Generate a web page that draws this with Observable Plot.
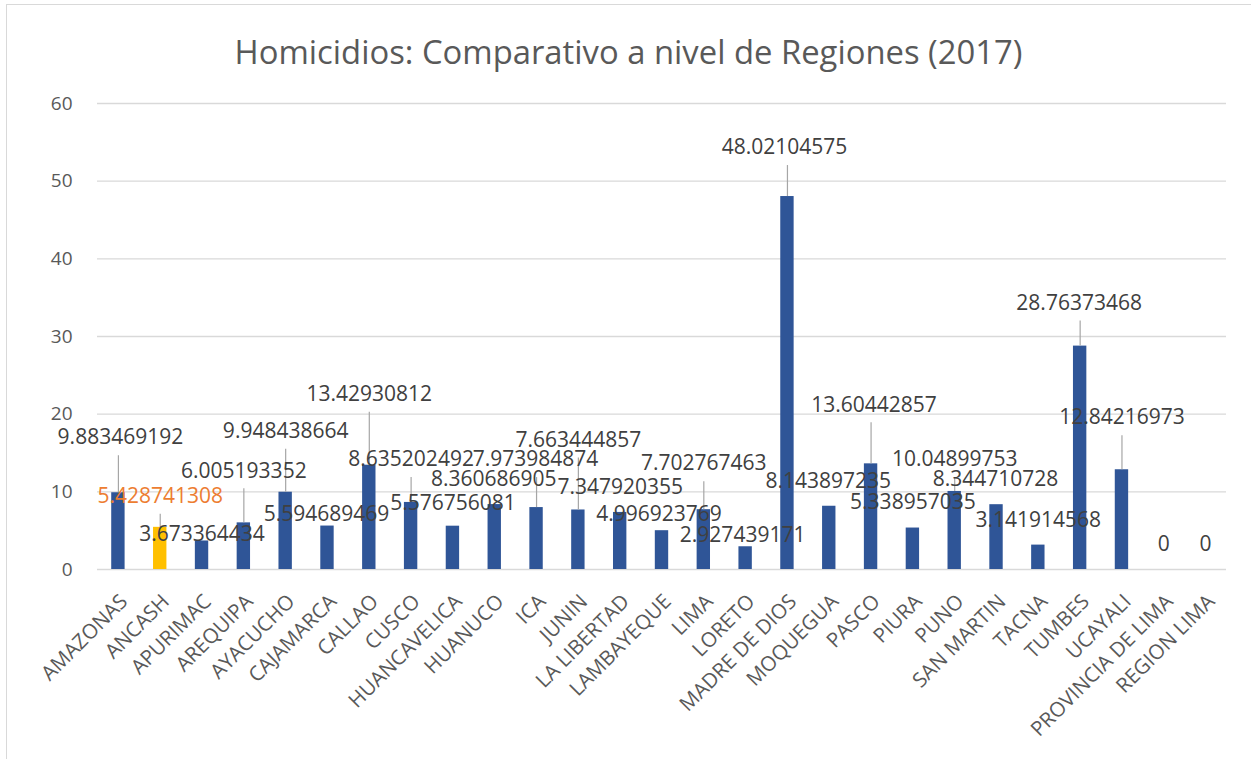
<!DOCTYPE html>
<html>
<head>
<meta charset="utf-8">
<script src="https://cdn.jsdelivr.net/npm/d3@7"></script>
<script src="https://cdn.jsdelivr.net/npm/@observablehq/plot@0.6"></script>
<style>
  html, body { margin: 0; padding: 0; background: #fff; overflow: hidden; }
  #page { position: relative; width: 1251px; height: 759px; font-family: "Open Sans", sans-serif; }
  #frame { position: absolute; left: 6px; top: 4px; width: 1260px; height: 770px;
           border-left: 1.5px solid #D9D9D9; border-top: 1.5px solid #D9D9D9; }
  #title { position: absolute; left: 3px; width: 1251px; top: 30px; text-align: center;
           font-size: 32.8px; color: #595959; line-height: 1.362; white-space: nowrap; }
  #chart { position: absolute; left: 0; top: 90px; }
</style>
</head>
<body>
<div id="page">
  <div id="frame"></div>
  <div id="title">Homicidios: Comparativo a nivel de Regiones (2017)</div>
  <div id="chart"></div>
</div>
<script>
// ---- data ----
const regions = ["AMAZONAS","ANCASH","APURIMAC","AREQUIPA","AYACUCHO","CAJAMARCA","CALLAO","CUSCO",
  "HUANCAVELICA","HUANUCO","ICA","JUNIN","LA LIBERTAD","LAMBAYEQUE","LIMA","LORETO","MADRE DE DIOS",
  "MOQUEGUA","PASCO","PIURA","PUNO","SAN MARTIN","TACNA","TUMBES","UCAYALI","PROVINCIA DE LIMA","REGION LIMA"];
const values = [9.883469192, 5.428741308, 3.673364434, 6.005193352, 9.948438664, 5.594689469, 13.42930812,
  8.635202492, 5.576756081, 8.360686905, 7.973984874, 7.663444857, 7.347920355, 4.996923769, 7.702767463,
  2.927439171, 48.02104575, 8.143897235, 13.60442857, 5.338957035, 10.04899753, 8.344710728, 3.141914568,
  28.76373468, 12.84216973, 0, 0];
const highlighted = "ANCASH";
const yTicks = [0, 10, 20, 30, 40, 50, 60];

// manual data-label placement (as dragged in the original): px above bar top, px sideways
const labelLift  = [55, 31, 6.5, 52, 61, 11.5, 71, 43, 23, 25, 48, 70, 25, 16, 46, 11, 49, 25, 59, 26, 32, 25, 25, 43, 52, 25, 25];
const labelShift = [2, 0, 0, 0, 0, -1, 0, 0, 0, -1, -1, 0, 0, -3, 0, -3, -3, -1, 3, 0, 0, -1, 0, -1, 0, 0, 0];

// ---- styles ----
const BLUE = "#2F5597", YELLOW = "#FFC000", ORANGE = "#ED7D31", LABEL = "#404040";
const W = 1251, H = 669, MT = 13, MB = 190, ML = 97, MR = 25;
const pxPerUnit = (H - MT - MB) / 60;
const Y_FONT = 19, X_FONT = 20.5, LABEL_FONT = 21;

const rows = regions.map((r, i) => ({region: r, value: values[i], lift: labelLift[i], shift: labelShift[i]}));

const labelMarks = rows.map(d => Plot.text([d], {
  x: "region", y: "value", text: v => String(v.value),
  dy: -d.lift, dx: d.shift, lineAnchor: "middle",
  fontSize: LABEL_FONT, fill: d.region === highlighted ? ORANGE : LABEL
}));

const leaders = rows.filter(d => d.lift >= 30);

const chart = Plot.plot({
  width: W, height: H,
  marginTop: MT, marginBottom: MB, marginLeft: ML, marginRight: MR,
  style: {fontFamily: "'Open Sans', sans-serif", fontSize: Y_FONT + "px", color: "#595959", background: "transparent"},
  x: {domain: regions, paddingInner: 0.68, paddingOuter: 0.34, round: false, label: null},
  y: {domain: [0, 60], label: null},
  marks: [
    Plot.gridY(yTicks, {stroke: "#D9D9D9", strokeOpacity: 1, strokeWidth: 1.3}),
    Plot.axisY(yTicks, {tickSize: 0, tickPadding: 25, fontSize: Y_FONT, label: null}),
    Plot.axisX({tickSize: 0, tickPadding: 23, tickRotate: -45, textAnchor: "end", lineAnchor: "top",
                dx: 0, fontSize: X_FONT, label: null}),
    Plot.barY(rows, {x: "region", y: "value", fill: d => d.region === highlighted ? YELLOW : BLUE}),
    Plot.ruleX(leaders, {x: "region", y1: "value", y2: d => d.value + (d.lift - 18) / pxPerUnit,
                         stroke: "#A6A6A6", strokeWidth: 1.2}),
    ...labelMarks
  ]
});
// make sure axis text sizes stick
d3.select(chart).selectAll('g[aria-label^="y-axis"]').attr("font-size", Y_FONT);
d3.select(chart).selectAll('g[aria-label^="x-axis"]').attr("font-size", X_FONT);
document.getElementById("chart").appendChild(chart);
</script>
</body>
</html>
